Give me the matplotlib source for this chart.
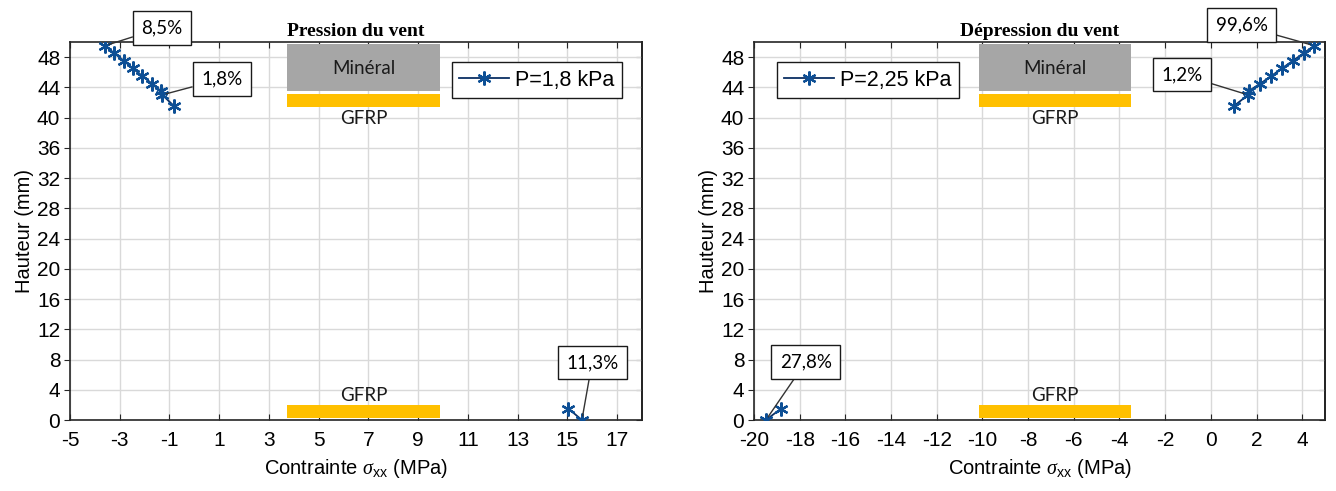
import numpy as np
import matplotlib
matplotlib.use("Agg")
import matplotlib.pyplot as plt
from matplotlib.patches import Rectangle

# --- data ---
# pression du vent (P=1,8 kPa): top layer (minéral + GFRP) then bottom GFRP
press_x = [-3.59, -3.22, -2.83, -2.48, -2.09, -1.71, -1.34, -1.29, -0.81, np.nan, 15.05, 15.59]
press_y = [49.5, 48.5, 47.5, 46.5, 45.5, 44.5, 43.5, 43.0, 41.5, np.nan, 1.5, 0.0]

# dépression du vent (P=2,25 kPa)
depress_x = [4.53, 4.06, 3.59, 3.11, 2.65, 2.17, 1.66, 1.63, 1.00, np.nan, -18.82, -19.48]
depress_y = [49.5, 48.5, 47.5, 46.5, 45.5, 44.5, 43.5, 43.0, 41.5, np.nan, 1.5, 0.0]

press_labels = ["8,5%", "1,8%", "11,3%"]
depress_labels = ["99,6%", "1,2%", "27,8%"]

yticks = list(range(0, 49, 4))
press_xticks = list(range(-5, 18, 2))
depress_xticks = list(range(-20, 5, 2))

LINE_C = "#0b2f63"
MARK_C = "#0d4f95"
GRAY = "#a6a6a6"
ORANGE = "#ffc000"
ASTERISK = (6, 2, 0)

plt.rcParams["font.family"] = ["Liberation Sans", "DejaVu Sans"]
plt.rcParams["axes.unicode_minus"] = False
plt.rcParams["mathtext.fontset"] = "custom"
plt.rcParams["mathtext.it"] = "Liberation Serif:italic"
plt.rcParams["mathtext.rm"] = "Liberation Sans"

fig = plt.figure(figsize=(13.36, 4.91), dpi=100)
ax1 = fig.add_axes([0.0524, 0.1446, 0.428, 0.770])
ax2 = fig.add_axes([0.5644, 0.1446, 0.4274, 0.770])


def style_axes(ax, xticks, xlim, title):
    ax.set_xlim(*xlim)
    ax.set_ylim(0, 50)
    ax.set_xticks(xticks)
    ax.set_yticks(yticks)
    ax.grid(True, color="#d9d9d9", lw=1.0)
    ax.set_axisbelow(True)
    ax.tick_params(axis="x", direction="in", top=True, length=4, labelsize=15, pad=8, color="#262626")
    ax.tick_params(axis="y", direction="out", length=4, labelsize=15, pad=3, color="#262626")
    sec = ax.secondary_yaxis("right")
    sec.set_yticks(yticks)
    sec.tick_params(direction="in", length=4, labelright=False, color="#262626")
    sec.spines["right"].set_linewidth(1.2)
    for s in ax.spines.values():
        s.set_linewidth(1.2)
        s.set_color("#262626")
    ax.set_xlabel(r"Contrainte $\sigma_{\mathrm{xx}}$ (MPa)", fontsize=14.5, labelpad=5)
    ax.set_ylabel("Hauteur (mm)", fontsize=14.5, labelpad=2)
    ax.set_title(title, fontsize=14, fontweight="bold", family="Liberation Serif", pad=4)


def layers(ax, x0, x1):
    ax.add_patch(Rectangle((x0, 43.45), x1 - x0, 6.3, fc=GRAY, ec="none", zorder=1.5))
    ax.add_patch(Rectangle((x0, 41.4), x1 - x0, 1.75, fc=ORANGE, ec="none", zorder=1.5))
    ax.add_patch(Rectangle((x0, 0.25), x1 - x0, 1.8, fc=ORANGE, ec="none", zorder=1.5))
    xm = (x0 + x1) / 2
    ax.text(xm, 46.5, "Minéral", ha="center", va="center", fontsize=13.5, family="Lato", color="#1a1a1a")
    ax.text(xm, 39.9, "GFRP", ha="center", va="center", fontsize=13.5, family="Lato", color="#1a1a1a")
    ax.text(xm, 3.2, "GFRP", ha="center", va="center", fontsize=13.5, family="Lato", color="#1a1a1a")


def note(ax, txt, xy, xytext):
    ax.annotate(txt, xy=xy, xytext=xytext, ha="center", va="center", fontsize=13.5,
                family="Lato", annotation_clip=False, zorder=5,
                bbox=dict(boxstyle="square,pad=0.45", fc="white", ec="#1a1a1a", lw=1.0),
                arrowprops=dict(arrowstyle="-", color="#333333", lw=1.0, shrinkA=0, shrinkB=3))


def draw(ax, x, y, label):
    ax.plot(x, y, color=LINE_C, lw=1.3, marker=ASTERISK, ms=10, mew=1.6,
            mfc=MARK_C, mec=MARK_C, label=label, zorder=4)


# left: pression du vent
style_axes(ax1, press_xticks, (-5, 18), "Pression du vent")
layers(ax1, 3.72, 9.9)
draw(ax1, press_x, press_y, "P=1,8 kPa")
note(ax1, press_labels[0], (press_x[0], press_y[0]), (-1.3, 51.9))
note(ax1, press_labels[1], (press_x[7], press_y[7]), (1.1, 45.1))
note(ax1, press_labels[2], (press_x[11], press_y[11]), (16.0, 7.6))
leg1 = ax1.legend(loc="upper right", bbox_to_anchor=(0.965, 0.947), fontsize=15.5,
                  handlelength=2.3, handletextpad=0.3, borderpad=0.35, borderaxespad=0,
                  fancybox=False, edgecolor="#1a1a1a", framealpha=1)
leg1.get_frame().set_linewidth(1.0)

# right: dépression du vent
style_axes(ax2, depress_xticks, (-20, 5), "Dépression du vent")
layers(ax2, -10.17, -3.5)
draw(ax2, depress_x, depress_y, "P=2,25 kPa")
note(ax2, depress_labels[0], (depress_x[0], depress_y[0]), (1.35, 52.2))
note(ax2, depress_labels[1], (depress_x[7], depress_y[7]), (-1.28, 45.7))
note(ax2, depress_labels[2], (depress_x[11], depress_y[11]), (-17.73, 7.7))
leg2 = ax2.legend(loc="upper left", bbox_to_anchor=(0.04, 0.947), fontsize=15.5,
                  handlelength=2.3, handletextpad=0.3, borderpad=0.35, borderaxespad=0,
                  fancybox=False, edgecolor="#1a1a1a", framealpha=1)
leg2.get_frame().set_linewidth(1.0)

fig.savefig("out.png", dpi=100)
